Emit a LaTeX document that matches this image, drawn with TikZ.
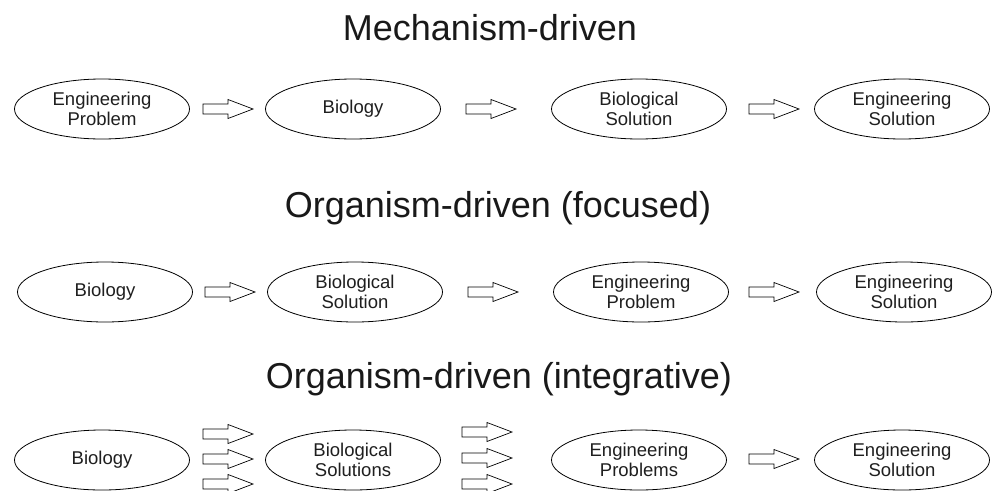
\documentclass[tikz,border=0pt]{standalone}
\usepackage{fontspec}
\setmainfont{Liberation Sans}
\usetikzlibrary{shapes.geometric}
\begin{document}
\begin{tikzpicture}[x=1pt,y=-1pt,
  oval/.style={ellipse,draw=black,line width=0.8pt,minimum width=175pt,minimum height=60pt,inner sep=0pt,
    align=center,font=\fontsize{18.5}{20.5}\selectfont,text=black!88},
  blockarrow/.pic={\draw[line width=0.7pt,line join=miter] (0,-5) -- (25,-5) -- (25,-9.5) -- (50,0) -- (25,9.5) -- (25,5) -- (0,5) -- cycle;},
  heading/.style={font=\fontsize{36}{40}\selectfont,text=black!90,anchor=base}]
\clip (0,0) rectangle (992,490);
\fill[white] (0,0) rectangle (992,490);
% titles
\node[heading] (t1) at (490,40) {Mechanism-driven};
\node[heading] (t2) at (498,217) {Organism-driven (focused)};
\node[heading] (t3) at (499,388) {Organism-driven (integrative)};
% row 1
\node[oval] (a1) at (102,109) {Engineering\\Problem};
\node[oval] (a2) at (353,109) {Biology};
\node[oval] (a3) at (639,109) {Biological\\Solution};
\node[oval] (a4) at (902,109) {Engineering\\Solution};
\pic (ar1) at (203,109) {blockarrow};
\pic (ar2) at (466,109) {blockarrow};
\pic (ar3) at (749,109) {blockarrow};
% row 2
\node[oval] (b1) at (105,292) {Biology};
\node[oval] (b2) at (355,292) {Biological\\Solution};
\node[oval] (b3) at (641,292) {Engineering\\Problem};
\node[oval] (b4) at (904,292) {Engineering\\Solution};
\pic (br1) at (205,292) {blockarrow};
\pic (br2) at (468,292) {blockarrow};
\pic (br3) at (749,292) {blockarrow};
% row 3
\node[oval] (c1) at (102,460) {Biology};
\node[oval] (c2) at (353,460) {Biological\\Solutions};
\node[oval] (c3) at (639,460) {Engineering\\Problems};
\node[oval] (c4) at (902,460) {Engineering\\Solution};
\pic (cr1a) at (203,434) {blockarrow};
\pic (cr1b) at (203,459) {blockarrow};
\pic (cr1c) at (203,484) {blockarrow};
\pic (cr2a) at (462,432) {blockarrow};
\pic (cr2b) at (462,458) {blockarrow};
\pic (cr2c) at (462,484) {blockarrow};
\pic (cr3) at (749,459) {blockarrow};
\end{tikzpicture}
\end{document}
